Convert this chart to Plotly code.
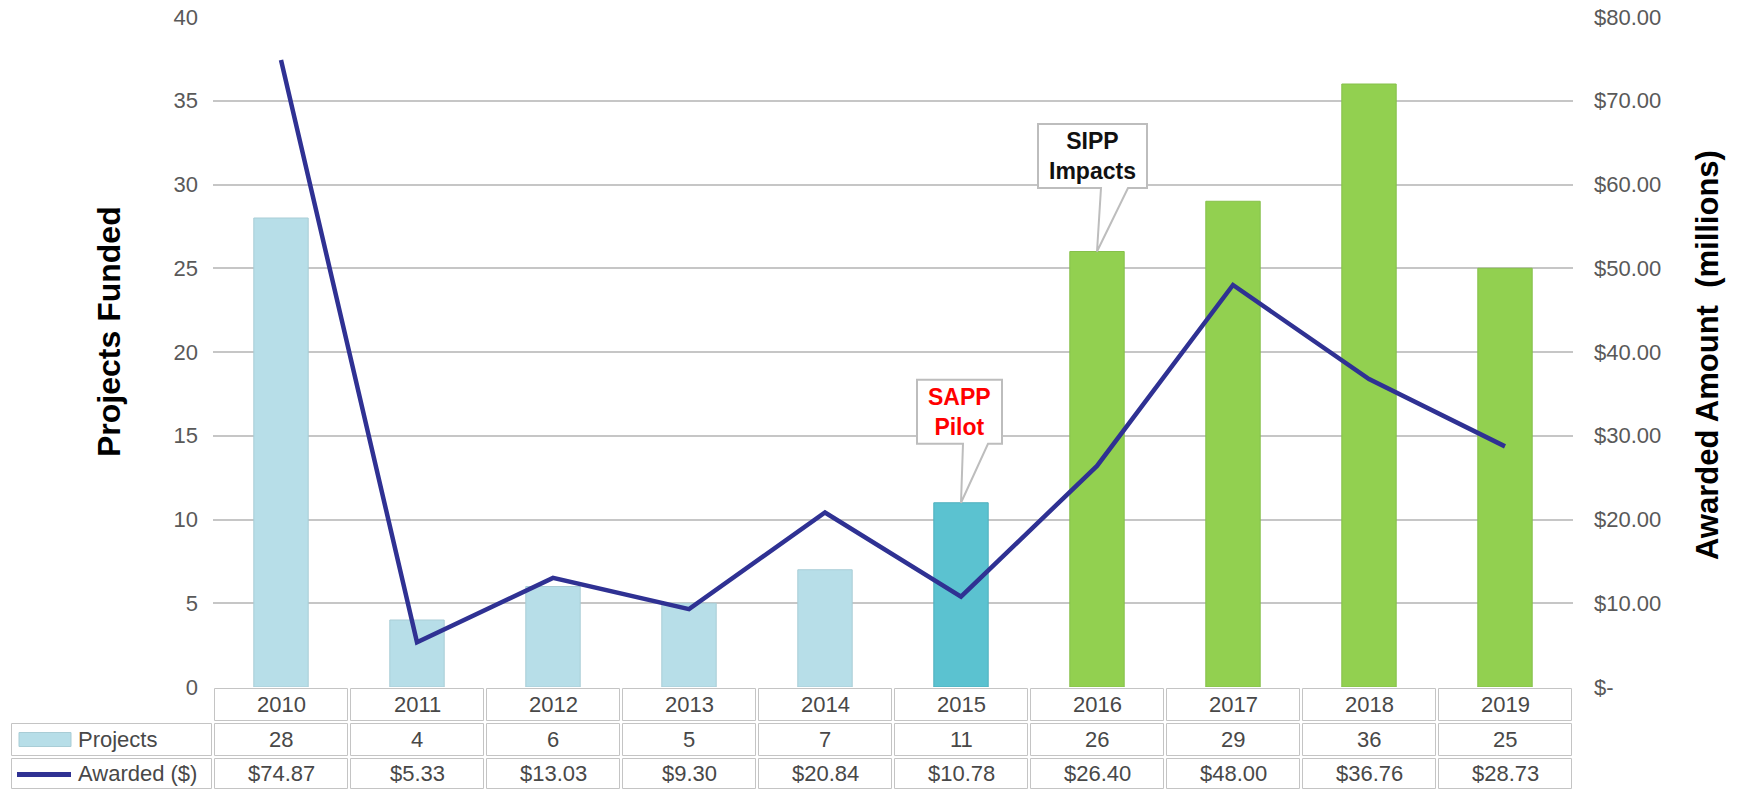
import plotly.graph_objects as go

# ---------------- data ----------------
years = ["2010", "2011", "2012", "2013", "2014", "2015", "2016", "2017", "2018", "2019"]
projects = [28, 4, 6, 5, 7, 11, 26, 29, 36, 25]
awarded = [74.87, 5.33, 13.03, 9.30, 20.84, 10.78, 26.40, 48.00, 36.76, 28.73]
awarded_labels = ["$74.87", "$5.33", "$13.03", "$9.30", "$20.84", "$10.78", "$26.40", "$48.00", "$36.76", "$28.73"]
left_ticks = [0, 5, 10, 15, 20, 25, 30, 35, 40]
right_ticks = [0, 10, 20, 30, 40, 50, 60, 70, 80]
right_tick_text = ["$-", "$10.00", "$20.00", "$30.00", "$40.00", "$50.00", "$60.00", "$70.00", "$80.00"]
bar_colors = ["#B7DEE8"] * 5 + ["#5BC2D0"] + ["#92D050"] * 4
bar_lines = ["#A9CDD6"] * 5 + ["#4FB0BE"] + ["#86C04A"] * 4

# ---------------- layout geometry ----------------
W, H = 1738, 791
ML, MR, MT, MB = 213, 165, 17, 104
PW, PH = W - ML - MR, H - MT - MB
Y0_PX = MT + PH  # pixel row of the plot bottom
N = len(years)
PX_PER_X = PW / N
PX_PER_Y = PH / 40.0

FONT = "Liberation Sans, Arial, sans-serif"
GRAY_TXT = "#595959"
TABLE_TXT = "#484848"
GRID = "#C6C6C6"
LINE_COLOR = "#2F3193"

def pxx(px):
    return (px - ML) / PW

def pxy(py):
    return (Y0_PX - py) / PH

fig = go.Figure()
xs = list(range(N))
fig.add_trace(go.Bar(x=xs, y=projects, width=0.4, marker=dict(color=bar_colors, line=dict(color=bar_lines, width=1)),
                     name="Projects", showlegend=False))
fig.add_trace(go.Scatter(x=xs, y=awarded, yaxis="y2", mode="lines", line=dict(color=LINE_COLOR, width=4.5),
                         name="Awarded ($)", showlegend=False))

shapes = []
annotations = []

# ---------------- data table ----------------
row_edges = [Y0_PX, 722, 757, 790]
col_edges_px = [10] + [ML + i * PX_PER_X for i in range(N + 1)]
inset = 1.5
cell_line = dict(color="#C4C4C4", width=1)

def cell(x0, x1, y0, y1):
    shapes.append(dict(type="rect", xref="paper", yref="paper",
                       x0=pxx(x0 + inset), x1=pxx(x1 - inset), y0=pxy(y0 + inset), y1=pxy(y1 - inset),
                       line=cell_line, fillcolor="rgba(0,0,0,0)", layer="above"))

# year row (data columns only)
for i in range(N):
    cell(col_edges_px[i + 1], col_edges_px[i + 2], row_edges[0], row_edges[1])
# projects / awarded rows (label column + data columns)
for r in (1, 2):
    for c in range(N + 1):
        cell(col_edges_px[c], col_edges_px[c + 1], row_edges[r], row_edges[r + 1])

row_texts = [years, [str(v) for v in projects], awarded_labels]
for r, texts in enumerate(row_texts):
    yc = pxy((row_edges[r] + row_edges[r + 1]) / 2)
    for i, t in enumerate(texts):
        annotations.append(dict(x=i, xref="x", y=yc, yref="paper", text=t, showarrow=False,
                                font=dict(family=FONT, size=22, color=TABLE_TXT), xanchor="center", yanchor="middle"))

# legend keys in label column
yc_p = (row_edges[1] + row_edges[2]) / 2
yc_a = (row_edges[2] + row_edges[3]) / 2
shapes.append(dict(type="rect", xref="paper", yref="paper", x0=pxx(19), x1=pxx(71), y0=pxy(yc_p + 7), y1=pxy(yc_p - 7),
                   fillcolor=bar_colors[0], line=dict(color="#A9CDD6", width=1)))
shapes.append(dict(type="line", xref="paper", yref="paper", x0=pxx(17), x1=pxx(71), y0=pxy(yc_a + 1), y1=pxy(yc_a + 1),
                   line=dict(color=LINE_COLOR, width=5)))
annotations.append(dict(x=pxx(76), xref="paper", y=pxy(yc_p), yref="paper", text="Projects", showarrow=False,
                        font=dict(family=FONT, size=22, color=TABLE_TXT), xanchor="left", yanchor="middle"))
annotations.append(dict(x=pxx(76), xref="paper", y=pxy(yc_a), yref="paper", text="Awarded ($)", showarrow=False,
                        font=dict(family=FONT, size=22, color=TABLE_TXT), xanchor="left", yanchor="middle"))

# ---------------- axis titles ----------------
annotations.append(dict(x=pxx(109), xref="paper", y=pxy(331), yref="paper", text="<b>Projects Funded</b>",
                        textangle=-90, showarrow=False, font=dict(family=FONT, size=32, color="#000000"),
                        xanchor="center", yanchor="middle"))
annotations.append(dict(x=pxx(1707), xref="paper", y=pxy(355), yref="paper", text="<b>Awarded Amount  (millions)</b>",
                        textangle=-90, showarrow=False, font=dict(family=FONT, size=31, color="#000000"),
                        xanchor="center", yanchor="middle"))

# ---------------- callouts ----------------
def callout(idx, text, color, left, right, top, bottom, wl, wr):
    """Box + wedge pointing at the top of bar idx; geometry in pixel offsets from the tip."""
    tx, ty = idx, projects[idx]
    def P(dx, dy):
        return f"{tx + dx / PX_PER_X:.5f},{ty - dy / PX_PER_Y:.5f}"
    path = ("M " + P(left, top) + " L " + P(right, top) + " L " + P(right, bottom) + " L " + P(wr, bottom)
            + " L " + P(0, 0) + " L " + P(wl, bottom) + " L " + P(left, bottom) + " Z")
    shapes.append(dict(type="path", xref="x", yref="y", path=path, fillcolor="white",
                       line=dict(color="#BDBDBD", width=2), layer="above"))
    annotations.append(dict(x=tx + (left + right) / 2 / PX_PER_X, xref="x",
                            y=ty - (top + bottom) / 2 / PX_PER_Y, yref="y", text=text, showarrow=False,
                            font=dict(family=FONT, size=23, color=color), align="center",
                            xanchor="center", yanchor="middle"))

callout(5, "<b>SAPP<br>Pilot</b>", "#FF0000", -44, 41, -123, -59, 2, 27)
callout(6, "<b>SIPP<br>Impacts</b>", "#111111", -59, 50, -127.5, -63.5, 4, 31)

fig.update_layout(
    width=W, height=H,
    margin=dict(l=ML, r=MR, t=MT, b=MB, autoexpand=False),
    paper_bgcolor="white", plot_bgcolor="white",
    font=dict(family=FONT, size=22, color=GRAY_TXT),
    bargap=0.6,
    xaxis=dict(range=[-0.5, N - 0.5], showticklabels=False, showgrid=False, zeroline=False, showline=False,
               fixedrange=True),
    yaxis=dict(range=[0, 40], tickvals=left_ticks, showgrid=True, gridcolor=GRID, gridwidth=2, zeroline=False,
               showline=False, tickfont=dict(family=FONT, size=22, color=GRAY_TXT), ticklabelstandoff=14),
    yaxis2=dict(range=[0, 80], overlaying="y", side="right", tickvals=right_ticks, ticktext=right_tick_text,
                showgrid=False, zeroline=False, showline=False,
                tickfont=dict(family=FONT, size=22, color=GRAY_TXT), ticklabelstandoff=20),
    shapes=shapes,
    annotations=annotations,
    showlegend=False,
)

fig.write_html("out.html", config={"displayModeBar": False},
               post_script="document.body.style.margin='0';document.body.style.overflow='hidden';")
